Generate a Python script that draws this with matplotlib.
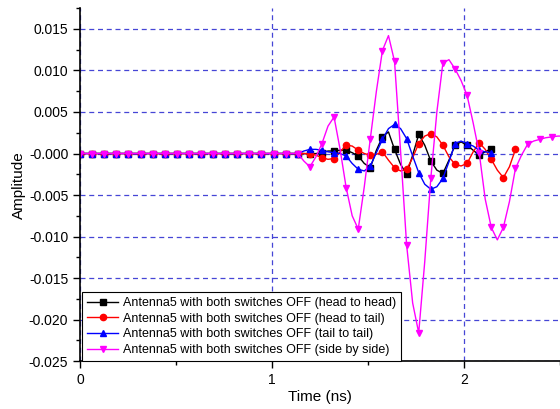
import numpy as np
import matplotlib
matplotlib.use('Agg')
import matplotlib.pyplot as plt
from matplotlib.ticker import MultipleLocator, FormatStrFormatter

plt.rcParams['font.family'] = ['Liberation Sans', 'DejaVu Sans']
plt.rcParams['axes.unicode_minus'] = False

# sampling step of the read points (every second point carries a marker)
DT = 0.0315

# amplitudes; the first 36 points are flat at zero
amp_head_head = [0.0] * 36 + [
    0.0, 0.0, -0.0001, 0.0, 0.0001, 0.0003, 0.0003, 0.0004, 0.0004, 0.0001,
    -0.0003, -0.0012, -0.0017, 0.0004, 0.0020, 0.0026, 0.0005, -0.0013, -0.0025, -0.0002,
    0.0023, 0.0010, -0.0009, -0.0020, -0.0024, -0.0008, 0.0010, 0.0014, 0.0010, 0.0004,
    -0.0002, 0.0002, 0.0006]

amp_head_tail = [0.0] * 36 + [
    0.0, 0.0, 0.0, -0.0002, -0.0005, -0.0007, -0.0006, 0.0002, 0.0010, 0.0009,
    0.0004, 0.0, -0.0002, -0.0001, 0.0002, -0.0008, -0.0017, -0.0021, -0.0019, -0.0005,
    0.0012, 0.0021, 0.0024, 0.0020, 0.0010, -0.0004, -0.0013, -0.0015, -0.0012, 0.0002,
    0.0013, 0.0005, -0.0007, -0.0020, -0.0029, -0.0016, 0.0005]

amp_tail_tail = [0.0] * 36 + [
    0.0, 0.0003, 0.0005, 0.0005, 0.0004, 0.0002, 0.0001, 0.0, -0.0003, -0.0012,
    -0.0019, -0.0021, -0.0015, 0.0001, 0.0017, 0.0030, 0.0035, 0.0030, 0.0018, -0.0003,
    -0.0023, -0.0037, -0.0043, -0.0040, -0.0030, -0.0010, 0.0012, 0.0015, 0.0012, 0.0009,
    0.0004, 0.0002, 0.0001]

amp_side_side = [0.0] * 36 + [
    0.0, -0.0009, -0.0016, -0.0004, 0.0012, 0.0033, 0.0044, 0.0005, -0.0041, -0.0075,
    -0.0091, -0.0040, 0.0018, 0.0075, 0.0124, 0.0142, 0.0111, 0.0003, -0.0110, -0.0180,
    -0.0216, -0.0130, -0.0030, 0.0050, 0.0109, 0.0113, 0.0102, 0.0088, 0.0070, 0.0037,
    0.0001, -0.0055, -0.0089, -0.0104, -0.0089, -0.0058, -0.0018, -0.0002, 0.0011, 0.0015,
    0.0017, 0.0019, 0.0020, 0.0021, 0.0021]

labels = ['Antenna5 with both switches OFF (head to head)',
          'Antenna5 with both switches OFF (head to tail)',
          'Antenna5 with both switches OFF (tail to tail)',
          'Antenna5 with both switches OFF (side by side)']

series = [amp_head_head, amp_head_tail, amp_tail_tail, amp_side_side]
colors = ['black', '#ff0000', '#0000ff', '#ff00ff']
markers = ['s', 'o', '^', 'v']

fig = plt.figure(figsize=(5.6, 4.09), dpi=100)
ax = fig.add_axes([0.143, 0.117, 0.857, 0.863])

for amp, col, mk, lab in zip(series, colors, markers, labels):
    t = np.arange(len(amp)) * DT
    ax.plot(t, amp, color=col, lw=1.0, marker=mk, markersize=4.5,
            markevery=2, label=lab)

ax.set_xlim(0, 2.5)
ax.set_ylim(-0.025, 0.0175)

ax.xaxis.set_major_locator(MultipleLocator(1))
ax.xaxis.set_minor_locator(MultipleLocator(0.5))
ax.yaxis.set_major_locator(MultipleLocator(0.005))
ax.yaxis.set_minor_locator(MultipleLocator(0.0025))
ax.yaxis.set_major_formatter(FormatStrFormatter('%.3f'))
ax.xaxis.set_major_formatter(FormatStrFormatter('%d'))

ax.tick_params(which='major', direction='out', length=5, width=1, labelsize=10)
ax.tick_params(which='minor', direction='out', length=3, width=1)

ax.grid(True, which='major', color='#4646d6', linestyle=(0, (4, 3)), linewidth=0.9)
ax.set_axisbelow(True)

for side in ['top', 'right']:
    ax.spines[side].set_visible(False)
for side in ['left', 'bottom']:
    ax.spines[side].set_linewidth(1.2)

ax.set_xlabel('Time (ns)', fontsize=11, labelpad=2)
ax.set_ylabel('Amplitude', fontsize=11, labelpad=2)

leg = ax.legend(loc='lower left', bbox_to_anchor=(0.004, 0.0), fontsize=9,
                frameon=True, fancybox=False, framealpha=1, edgecolor='black',
                handlelength=2.5, borderpad=0.4, labelspacing=0.3,
                handletextpad=0.4, borderaxespad=0.0)
leg.get_frame().set_linewidth(0.8)

fig.savefig('out.png', dpi=100)
